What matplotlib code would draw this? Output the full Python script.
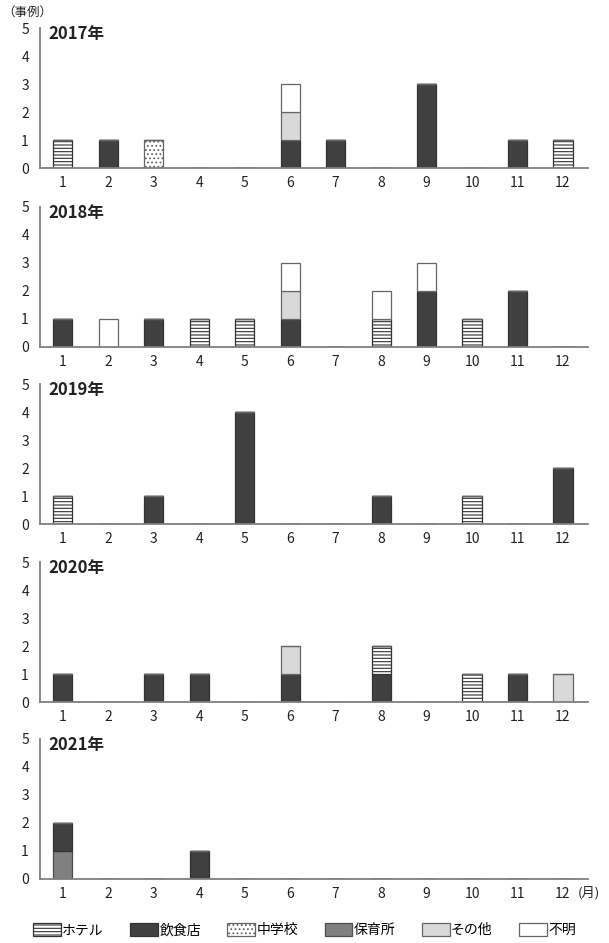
import matplotlib
matplotlib.use("Agg")
import matplotlib.pyplot as plt
from matplotlib.patches import Patch
import numpy as np

plt.rcParams['font.family'] = ['Noto Sans CJK JP', 'DejaVu Sans']
plt.rcParams['hatch.linewidth'] = 0.8

months = list(range(1, 13))
years = ['2017年', '2018年', '2019年', '2020年', '2021年']
categories = ['ホテル', '飲食店', '中学校', '保育所', 'その他', '不明']

# counts per month (Jan..Dec) for each category, per year
hotel = {
    '2017年': [1, 0, 0, 0, 0, 0, 0, 0, 0, 0, 0, 1],
    '2018年': [0, 0, 0, 1, 1, 0, 0, 1, 0, 1, 0, 0],
    '2019年': [1, 0, 0, 0, 0, 0, 0, 0, 0, 1, 0, 0],
    '2020年': [0, 0, 0, 0, 0, 0, 0, 1, 0, 1, 0, 0],
    '2021年': [0, 0, 0, 0, 0, 0, 0, 0, 0, 0, 0, 0],
}
restaurant = {
    '2017年': [0, 1, 0, 0, 0, 1, 1, 0, 3, 0, 1, 0],
    '2018年': [1, 0, 1, 0, 0, 1, 0, 0, 2, 0, 2, 0],
    '2019年': [0, 0, 1, 0, 4, 0, 0, 1, 0, 0, 0, 2],
    '2020年': [1, 0, 1, 1, 0, 1, 0, 1, 0, 0, 1, 0],
    '2021年': [1, 0, 0, 1, 0, 0, 0, 0, 0, 0, 0, 0],
}
middle_school = {
    '2017年': [0, 0, 1, 0, 0, 0, 0, 0, 0, 0, 0, 0],
    '2018年': [0] * 12,
    '2019年': [0] * 12,
    '2020年': [0] * 12,
    '2021年': [0] * 12,
}
nursery = {
    '2017年': [0] * 12,
    '2018年': [0] * 12,
    '2019年': [0] * 12,
    '2020年': [0] * 12,
    '2021年': [1, 0, 0, 0, 0, 0, 0, 0, 0, 0, 0, 0],
}
other = {
    '2017年': [0, 0, 0, 0, 0, 1, 0, 0, 0, 0, 0, 0],
    '2018年': [0, 0, 0, 0, 0, 1, 0, 0, 0, 0, 0, 0],
    '2019年': [0] * 12,
    '2020年': [0, 0, 0, 0, 0, 1, 0, 0, 0, 0, 0, 1],
    '2021年': [0] * 12,
}
unknown = {
    '2017年': [0, 0, 0, 0, 0, 1, 0, 0, 0, 0, 0, 0],
    '2018年': [0, 1, 0, 0, 0, 1, 0, 1, 1, 0, 0, 0],
    '2019年': [0] * 12,
    '2020年': [0] * 12,
    '2021年': [0] * 12,
}

styles = {
    'ホテル': dict(facecolor='white', hatch='-----', edgecolor='#333333'),
    '飲食店': dict(facecolor='#404040', hatch=None, edgecolor='#333333'),
    '中学校': dict(facecolor='white', hatch='....', edgecolor='#666666'),
    '保育所': dict(facecolor='#808080', hatch=None, edgecolor='#4d4d4d'),
    'その他': dict(facecolor='#d9d9d9', hatch=None, edgecolor='#666666'),
    '不明': dict(facecolor='white', hatch=None, edgecolor='#666666'),
}
# stacking order (bottom to top)
stack = [('保育所', nursery), ('飲食店', restaurant), ('ホテル', hotel),
         ('中学校', middle_school), ('その他', other), ('不明', unknown)]

fig = plt.figure(figsize=(6.09, 9.43), dpi=100)
bottoms_px = [168, 347, 524, 702, 879]
H = 943.0
for yi, (year, bpx) in enumerate(zip(years, bottoms_px)):
    ax = fig.add_axes([40 / 609, 1 - bpx / H, 548 / 609, 140 / H])
    base = np.zeros(12)
    for name, data in stack:
        vals = np.array(data[year], dtype=float)
        st = styles[name]
        ax.bar(months, vals, width=0.42, bottom=base, facecolor=st['facecolor'],
               edgecolor=st['edgecolor'], hatch=st['hatch'], linewidth=0.9)
        base += vals
    ax.set_xlim(0.5, 12.55)
    ax.set_ylim(0, 5)
    ax.set_yticks(range(6))
    ax.set_xticks(months)
    ax.tick_params(length=0, labelsize=10, colors='#222222', pad=6)
    ax.tick_params(axis='y', pad=8)
    for s in ['top', 'right']:
        ax.spines[s].set_visible(False)
    for s in ['left', 'bottom']:
        ax.spines[s].set_color('#7f7f7f')
        ax.spines[s].set_linewidth(1.3)
    ax.text(0.016, 1.02, year, transform=ax.transAxes, fontsize=12,
            fontweight='bold', va='top', ha='left', color='#222222')

fig.text(2 / 609, 1 - 12 / H, '（事例）', fontsize=9, va='center', ha='left',
         color='#222222')
fig.text(578 / 609, 1 - 893 / H, '(月)', fontsize=9.5, va='center', ha='left',
         color='#222222')

handles = [Patch(facecolor=styles[c]['facecolor'], edgecolor=styles[c]['edgecolor'],
                 hatch=styles[c]['hatch'], linewidth=0.9, label=c) for c in categories]
fig.legend(handles=handles, loc='center', bbox_to_anchor=(0.5, 1 - 930 / H), ncol=6,
           frameon=False, fontsize=10, handlelength=2.0, handleheight=1.1,
           handletextpad=0.1, columnspacing=1.9)

fig.savefig('out.png', dpi=100)
